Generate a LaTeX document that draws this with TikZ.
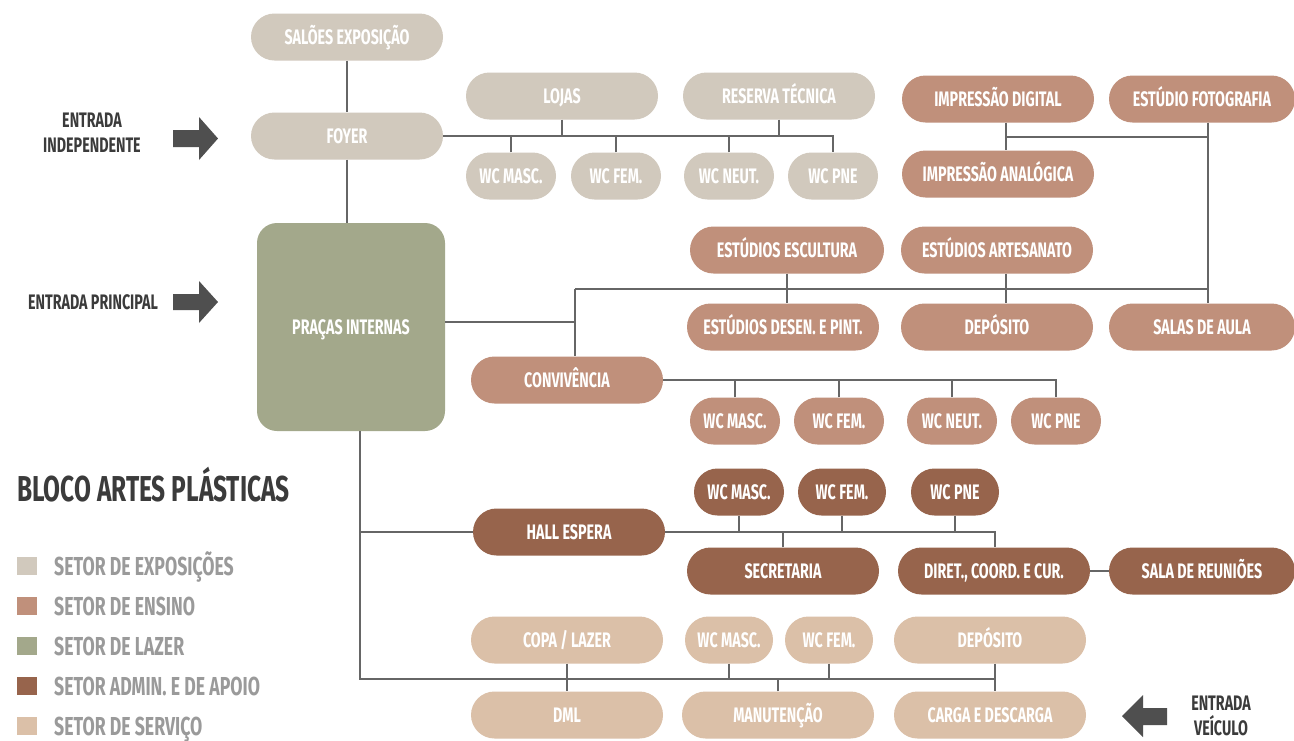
\documentclass[tikz,border=0pt]{standalone}
\usepackage{fontspec}
\setmainfont{Fira Sans}[FakeStretch=0.68]
\definecolor{cExpo}{HTML}{D1C9BD}
\definecolor{cEns}{HTML}{C0907B}
\definecolor{cLaz}{HTML}{A3A88B}
\definecolor{cAdm}{HTML}{97644C}
\definecolor{cServ}{HTML}{DBC0A8}
\definecolor{cLine}{HTML}{666666}
\definecolor{cDark}{HTML}{3B3B3B}
\definecolor{cLeg}{HTML}{9A9A9A}
\newcommand\boxfont{\fontsize{21}{23}\selectfont\bfseries}
\tikzset{
  box/.style={rounded corners=23.5pt, minimum height=47pt, inner sep=0pt, text height=14.5pt, text depth=0pt, text=white, font=\boxfont},
  wide/.style={minimum width=192pt},
  wc/.style={minimum width=90pt},
  expo/.style={box, fill=cExpo},
  ens/.style={box, fill=cEns},
  laz/.style={box, fill=cLaz},
  adm/.style={box, fill=cAdm},
  serv/.style={box, fill=cServ},
  conn/.style={draw=cLine, line width=2pt},
  entr/.style={text=cDark, font=\fontsize{21}{25}\selectfont\bfseries, align=center, inner sep=0pt},
  bigarrow/.style={fill=cDark!90},
  legsq/.style={minimum width=20pt, minimum height=18pt, inner sep=0pt},
  legtxt/.style={anchor=west, text=cLeg, font=\fontsize{26}{28}\selectfont\bfseries, inner sep=0pt, text height=18pt, text depth=0pt}
}
\begin{document}
\begin{tikzpicture}[x=1pt, y=-1pt]
\useasboundingbox (0,0) rectangle (1294,740);
\fill[white] (0,0) rectangle (1294,740);

% ---------- nodes: exposicoes ----------
\node[expo, wide] (salao) at (347,37) {SALÕES EXPOSIÇÃO};
\node[expo, wide] (foyer) at (347,136) {FOYER};
\node[expo, wide] (lojas) at (562,96) {LOJAS};
\node[expo, wide] (reserva) at (779,96) {RESERVA TÉCNICA};
\node[expo, wc] (ewc1) at (511,176) {WC MASC.};
\node[expo, wc] (ewc2) at (616,176) {WC FEM.};
\node[expo, wc] (ewc3) at (729,176) {WC NEUT.};
\node[expo, wc] (ewc4) at (833,176) {WC PNE};

% ---------- lazer ----------
\node[laz, rounded corners=20pt, minimum width=188pt, minimum height=208pt] (pracas) at (351,327) {PRAÇAS INTERNAS};

% ---------- ensino ----------
\node[ens, wide] (impdig) at (998,99) {IMPRESSÃO DIGITAL};
\node[ens, minimum width=186pt] (estfoto) at (1202,99) {ESTÚDIO FOTOGRAFIA};
\node[ens, wide] (impana) at (998,174) {IMPRESSÃO ANALÓGICA};
\node[ens, minimum width=194pt] (escult) at (787,250) {ESTÚDIOS ESCULTURA};
\node[ens, wide] (artes) at (997,250) {ESTÚDIOS ARTESANATO};
\node[ens, wide] (desen) at (783,327) {ESTÚDIOS DESEN. E PINT.};
\node[ens, wide] (depo1) at (997,327) {DEPÓSITO};
\node[ens, minimum width=186pt] (salas) at (1202,327) {SALAS DE AULA};
\node[ens, wide] (conv) at (567,380) {CONVIVÊNCIA};
\node[ens, wc] (nwc1) at (735,421) {WC MASC.};
\node[ens, wc] (nwc2) at (839,421) {WC FEM.};
\node[ens, wc] (nwc3) at (952,421) {WC NEUT.};
\node[ens, wc] (nwc4) at (1056,421) {WC PNE};

% ---------- admin ----------
\node[adm, wide] (hall) at (569,532) {HALL ESPERA};
\node[adm, wc] (awc1) at (739,492) {WC MASC.};
\node[adm, minimum width=88pt] (awc2) at (842,492) {WC FEM.};
\node[adm, minimum width=88pt] (awc3) at (955,492) {WC PNE};
\node[adm, wide] (secr) at (783,571) {SECRETARIA};
\node[adm, wide] (diret) at (994,571) {DIRET., COORD. E CUR.};
\node[adm, minimum width=186pt] (reun) at (1202,571) {SALA DE REUNIÕES};

% ---------- servico ----------
\node[serv, wide] (copa) at (567,640) {COPA / LAZER};
\node[serv, minimum width=88pt] (swc1) at (729,640) {WC MASC.};
\node[serv, minimum width=88pt] (swc2) at (829,640) {WC FEM.};
\node[serv, wide] (depo2) at (990,640) {DEPÓSITO};
\node[serv, wide] (dml) at (567,715) {DML};
\node[serv, wide] (manut) at (778,715) {MANUTENÇÃO};
\node[serv, wide] (carga) at (990,715) {CARGA E DESCARGA};

% ---------- junctions ----------
\coordinate (ij) at (1006,137);
\coordinate (fj) at (1208,137);
\coordinate (eh) at (575,289);
\coordinate (eh2) at (1208,289);
\coordinate (pj) at (575,322);
\coordinate (pb) at (360,679);
\coordinate (sj) at (995,679);
\coordinate (aj) at (995,532);

% ---------- connectors ----------
\draw[conn] (salao) -- (foyer);
\draw[conn] (foyer.south) -- (foyer.south |- pracas.north);
\draw[conn] (foyer.east) -- (ewc4.north |- foyer.east) -- (ewc4.north);
\foreach \n in {lojas,reserva} \draw[conn] (\n.south) -- (\n.south |- foyer.east);
\foreach \n in {ewc1,ewc2,ewc3} \draw[conn] (\n.north) -- (\n.north |- foyer.east);

\draw[conn] (impdig.south -| ij) -- (impana.north -| ij);
\draw[conn] (ij) -- (fj);
\draw[conn] (estfoto.south -| fj) -- (salas.north -| fj);

\draw[conn] (eh) -- (eh2);
\draw[conn] (pracas.east |- pj) -- (pj);
\draw[conn] (eh) -- (conv.north -| eh);
\draw[conn] (escult.south) -- (escult.south |- desen.north);
\draw[conn] (artes.south -| ij) -- (depo1.north -| ij);

\draw[conn] (conv.east) -- (nwc4.north |- conv.east) -- (nwc4.north);
\foreach \n in {nwc1,nwc2,nwc3} \draw[conn] (\n.north) -- (\n.north |- conv.east);

\draw[conn] (pracas.south -| pb) -- (pb) -- (sj);
\draw[conn] (hall.west -| pb) -- (hall.west);
\draw[conn] (hall.east) -- (aj) -- (diret.north -| aj);
\foreach \n in {awc1,awc2,awc3} \draw[conn] (\n.south) -- (\n.south |- hall.east);
\draw[conn] (secr.north) -- (secr.north |- hall.east);
\draw[conn] (diret.east) -- (reun.west);

\draw[conn] (depo2.south -| sj) -- (carga.north -| sj);
\draw[conn] (copa.south) -- (dml.north);
\foreach \n in {swc1,swc2} \draw[conn] (\n.south) -- (\n.south |- pb);
\draw[conn] (manut.north) -- (manut.north |- pb);

% ---------- entrances ----------
\node[entr] (ei) at (92,133) {ENTRADA\\INDEPENDENTE};
\fill[bigarrow] (173,130) -- (199,130) -- (199,117) -- (218,138.5) -- (199,160) -- (199,147) -- (173,147) -- cycle;
\node[entr] (ep) at (93,302) {ENTRADA PRINCIPAL};
\fill[bigarrow] (173,294) -- (199,294) -- (199,281) -- (218,302) -- (199,323) -- (199,310) -- (173,310) -- cycle;
\node[entr] (ev) at (1221,716) {ENTRADA\\VEÍCULO};
\fill[bigarrow] (1167,708) -- (1143,708) -- (1143,695) -- (1122,716) -- (1143,737) -- (1143,725) -- (1167,725) -- cycle;

% ---------- title & legend ----------
\node[anchor=west, inner sep=0pt, text=cDark, font=\fontsize{36}{40}\selectfont\bfseries] (title) at (17,485) {BLOCO ARTES PLÁSTICAS};
\node[legsq, fill=cExpo] (q1) at (27,566) {};
\node[legsq, fill=cEns] (q2) at (27,606) {};
\node[legsq, fill=cLaz] (q3) at (27,646) {};
\node[legsq, fill=cAdm] (q4) at (27,686) {};
\node[legsq, fill=cServ] (q5) at (27,726) {};
\node[legtxt] (t1) at (54,566) {SETOR DE EXPOSIÇÕES};
\node[legtxt] (t2) at (54,606) {SETOR DE ENSINO};
\node[legtxt] (t3) at (54,646) {SETOR DE LAZER};
\node[legtxt] (t4) at (54,686) {SETOR ADMIN. E DE APOIO};
\node[legtxt] (t5) at (54,726) {SETOR DE SERVIÇO};
\end{tikzpicture}
\end{document}
